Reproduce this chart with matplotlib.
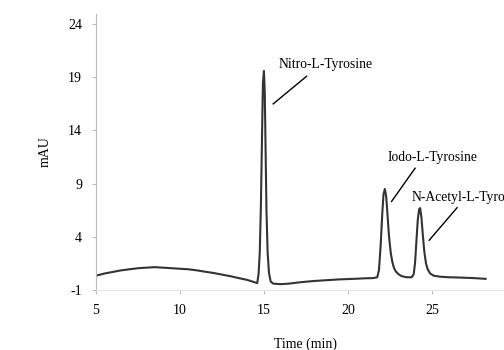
import matplotlib
matplotlib.use("Agg")
import matplotlib.pyplot as plt

plt.rcParams['font.family'] = ['Liberation Serif', 'DejaVu Serif']
plt.rcParams['axes.unicode_minus'] = False

# chromatogram trace (time in min, signal in mAU)
time_min = [5.0, 5.5, 6.0, 6.5, 7.0, 7.5, 8.0, 8.5, 9.0, 9.5, 10.0, 10.5, 11.0,
            11.5, 12.0, 12.5, 13.0, 13.5, 14.0, 14.3, 14.6, 14.68, 14.75, 14.82,
            14.88, 14.94, 15.0, 15.05, 15.1, 15.15, 15.22, 15.3, 15.4, 15.55,
            16.0, 16.5, 17.0, 17.5, 18.0, 18.5, 19.0, 19.5, 20.0, 20.5, 21.0,
            21.5, 21.75, 21.85, 21.95, 22.05, 22.12, 22.2, 22.28, 22.36, 22.45,
            22.55, 22.65, 22.75, 22.85, 23.0, 23.2, 23.5, 23.8, 23.92, 24.0,
            24.08, 24.16, 24.24, 24.3, 24.38, 24.46, 24.55, 24.65, 24.75, 24.9,
            25.1, 25.5, 26.0, 26.5, 27.0, 27.5, 28.2]
signal_mau = [0.35, 0.55, 0.7, 0.85, 0.95, 1.05, 1.1, 1.15, 1.1, 1.05, 1.0, 0.95,
              0.85, 0.72, 0.6, 0.45, 0.3, 0.12, -0.05, -0.2, -0.35, 0.5, 2.5, 7.0,
              13.0, 18.5, 19.6, 17.5, 12.0, 6.5, 2.5, 0.6, -0.2, -0.4,
              -0.45, -0.4, -0.3, -0.22, -0.15, -0.1, -0.05, 0.0, 0.03, 0.06, 0.1,
              0.12, 0.2, 0.9, 3.2, 6.3, 8.0, 8.5, 7.8, 6.0, 4.0,
              2.5, 1.6, 1.05, 0.75, 0.5, 0.3, 0.2, 0.2, 0.5, 1.6,
              3.6, 5.6, 6.6, 6.7, 5.8, 4.2, 2.6, 1.5, 0.95, 0.55,
              0.35, 0.25, 0.2, 0.18, 0.15, 0.12, 0.05]

peak_labels = ["Nitro-L-Tyrosine", "Iodo-L-Tyrosine", "N-Acetyl-L-Tyrosine"]
label_xy = [(15.85, 20.25), (22.36, 11.48), (23.78, 7.74)]
leader_start = [(17.54, 19.1), (24.0, 10.45), (26.5, 6.74)]
leader_end = [(15.55, 16.5), (22.6, 7.33), (24.84, 3.68)]

x_ticks = [5, 10, 15, 20, 25]
y_ticks = [-1, 4, 9, 14, 19, 24]

fig = plt.figure(figsize=(5.04, 3.5), dpi=100)
ax = fig.add_axes([0.1905, 0.1714, 0.833, 0.79])

ax.plot(time_min, signal_mau, color='#333333', linewidth=1.5)

for text, (tx, ty), (x0, y0), (x1, y1) in zip(peak_labels, label_xy, leader_start, leader_end):
    ax.text(tx, ty, text, fontsize=9.8, ha='left', va='center')
    ax.plot([x0, x1], [y0, y1], color='black', linewidth=1.0)

ax.set_xlim(5, 30)
ax.set_ylim(-1, 25)
ax.set_xticks(x_ticks)
ax.set_yticks(y_ticks)
ax.tick_params(axis='both', labelsize=10, length=3, color='#bbbbbb', pad=7)

for side in ['top', 'right']:
    ax.spines[side].set_visible(False)
ax.spines['left'].set_color('#bbbbbb')
ax.spines['bottom'].set_color('#e6e6e6')
ax.spines['left'].set_linewidth(0.8)
ax.spines['bottom'].set_linewidth(0.8)

ax.set_xlabel("Time (min)", fontsize=10, labelpad=15)
ax.set_ylabel("mAU", fontsize=10, labelpad=12)

fig.savefig("out.png", dpi=100)
